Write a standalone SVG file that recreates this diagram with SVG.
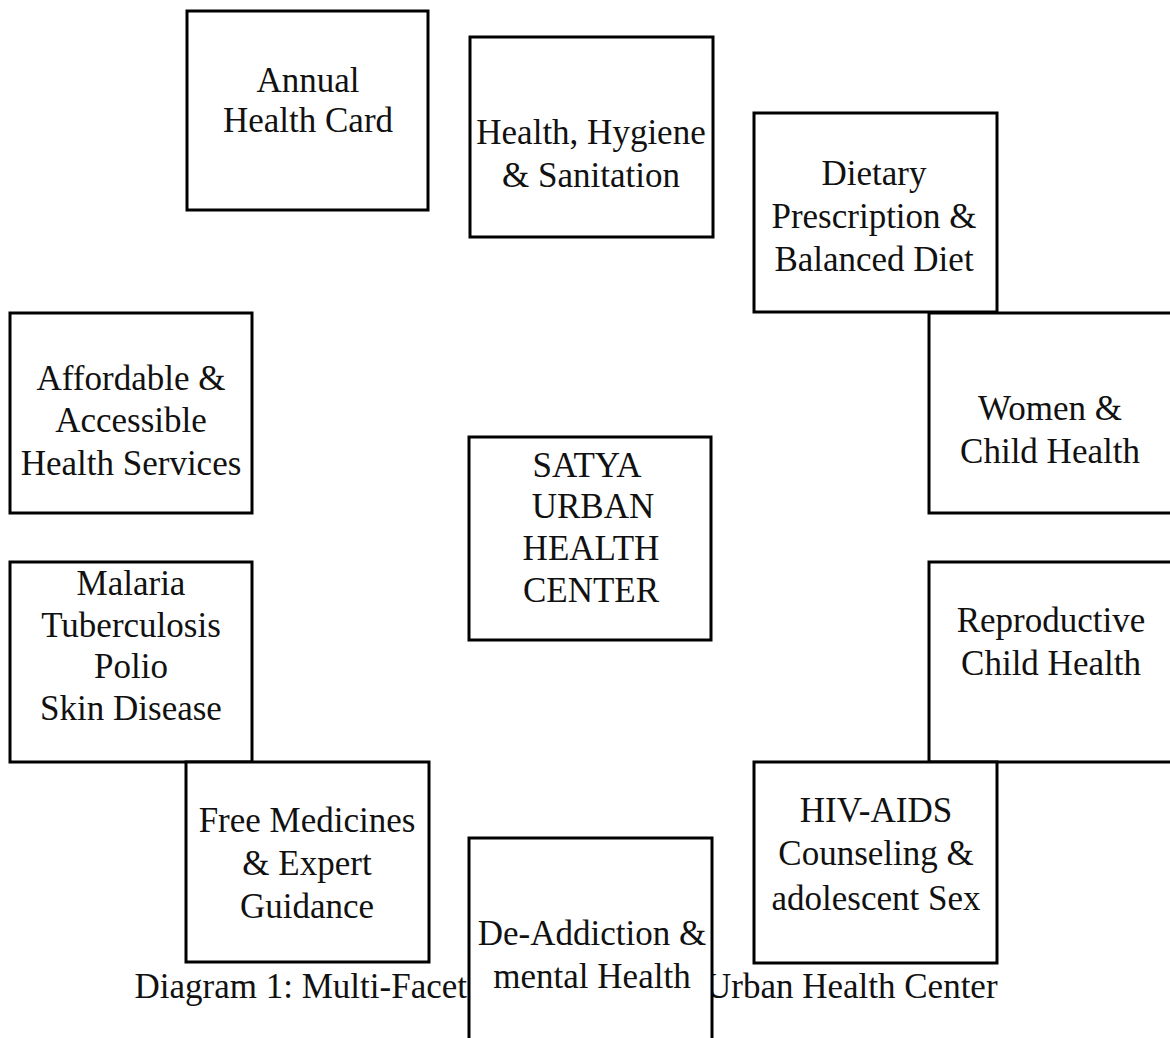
<svg xmlns="http://www.w3.org/2000/svg" width="1170" height="1038" viewBox="0 0 1170 1038">
<style>
.box{fill:#fff;stroke:#000;stroke-width:3}
text{font-family:"Liberation Serif","Times New Roman",serif;font-size:35px;fill:#111;text-anchor:middle}
</style>
<rect width="1170" height="1038" fill="#fff"/>
<g id="caption">
<text x="467" y="998" style="text-anchor:end">Diagram 1: Multi-Facet</text>
<text x="706" y="998" style="text-anchor:start">Urban Health Center</text>
</g>
<g id="connectors"></g>
<g id="annual"><rect class="box" x="187" y="11" width="241" height="199"/>
<text x="308" y="92">Annual</text><text x="308" y="132">Health Card</text></g>
<g id="hygiene"><rect class="box" x="470" y="37" width="243" height="200"/>
<text x="591" y="144">Health, Hygiene</text><text x="591" y="187">&amp; Sanitation</text></g>
<g id="dietary"><rect class="box" x="754" y="113" width="243" height="199"/>
<text x="874" y="185">Dietary</text><text x="874" y="228">Prescription &amp;</text><text x="874" y="271">Balanced Diet</text></g>
<g id="women"><rect class="box" x="929" y="313" width="243" height="200"/>
<text x="1050" y="420">Women &amp;</text><text x="1050" y="463">Child Health</text></g>
<g id="affordable"><rect class="box" x="10" y="313" width="242" height="200"/>
<text x="131" y="390">Affordable &amp;</text><text x="131" y="432">Accessible</text><text x="131" y="475">Health Services</text></g>
<g id="malaria"><rect class="box" x="10" y="562" width="242" height="200"/>
<text x="131" y="595">Malaria</text><text x="131" y="637">Tuberculosis</text><text x="131" y="678">Polio</text><text x="131" y="720">Skin Disease</text></g>
<g id="center"><rect class="box" x="469" y="437" width="242" height="203"/>
<text x="587" y="477">SATYA</text><text x="593" y="518">URBAN</text><text x="591" y="560">HEALTH</text><text x="591" y="602">CENTER</text></g>
<g id="reproductive"><rect class="box" x="929" y="562" width="243" height="200"/>
<text x="1051" y="632">Reproductive</text><text x="1051" y="675">Child Health</text></g>
<g id="medicines"><rect class="box" x="186" y="762" width="243" height="200"/>
<text x="307" y="832">Free Medicines</text><text x="307" y="875">&amp; Expert</text><text x="307" y="918">Guidance</text></g>
<g id="hiv"><rect class="box" x="754" y="762" width="243" height="201"/>
<text x="876" y="822">HIV-AIDS</text><text x="876" y="865">Counseling &amp;</text><text x="876" y="910">adolescent Sex</text></g>
<g id="deaddiction"><rect class="box" x="469" y="838" width="243" height="210"/>
<text x="592" y="945">De-Addiction &amp;</text><text x="592" y="988">mental Health</text></g>
</svg>
